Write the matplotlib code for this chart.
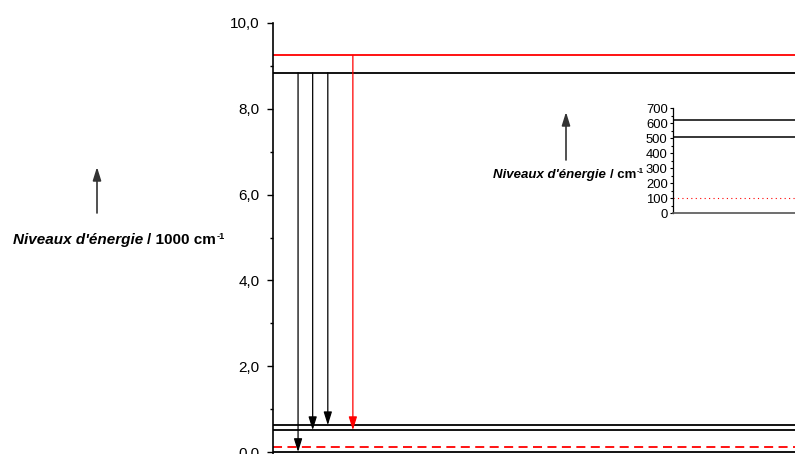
import matplotlib
matplotlib.use("Agg")
import matplotlib.pyplot as plt
from matplotlib.ticker import MultipleLocator, FuncFormatter

plt.rcParams['font.family'] = ['Liberation Sans', 'DejaVu Sans']

# ---- data (energies in 1000 cm^-1 for main panel, cm^-1 for inset) ----
excited_black = 8.84
excited_red = 9.25
ground_levels = [0.0, 0.51, 0.625]          # solid black ground multiplet
ground_red_dashed = 0.105                   # red dashed level
# transitions: (x position, start, end, colour)
trans_x = [4.8, 7.6, 10.5, 15.3]
trans_start = [8.84, 8.84, 8.84, 9.25]
trans_end = [0.0, 0.51, 0.625, 0.51]
trans_color = ['black', 'black', 'black', 'red']

inset_levels = [625, 510]
inset_dotted = 105
inset_ticks = [0, 100, 200, 300, 400, 500, 600, 700]

W, H = 795, 454
fig = plt.figure(figsize=(W / 100, H / 100), dpi=100)

# ---- main axes ----
y0px, y10px = 452, 23
ppu = (y0px - y10px) / 10.0
ymin = -(H - y0px) / ppu
ax = fig.add_axes([273 / W, 0, (W - 273) / W, (H - y10px) / H])
ax.set_xlim(0, 100)
ax.set_ylim(ymin, 10)
for s in ['top', 'right', 'bottom']:
    ax.spines[s].set_visible(False)
ax.spines['left'].set_linewidth(1.2)
ax.set_xticks([])
ax.yaxis.set_major_locator(MultipleLocator(2))
ax.yaxis.set_minor_locator(MultipleLocator(1))
ax.yaxis.set_major_formatter(FuncFormatter(lambda v, p: f"{v:.1f}".replace('.', ',')))
ax.tick_params(axis='y', which='major', direction='out', length=4.5, width=1.0,
               pad=5, labelsize=11)
ax.tick_params(axis='y', which='minor', direction='out', length=2.5, width=1.0)

for lv in ground_levels:
    ax.axhline(lv, color='black', lw=1.3, zorder=2)
ax.axhline(excited_black, color='black', lw=1.3, zorder=2)
ax.axhline(excited_red, color='red', lw=1.3, zorder=2)
ax.axhline(ground_red_dashed, color='red', lw=1.3, ls=(0, (5, 3)), zorder=2)

for x, s, e, c in zip(trans_x, trans_start, trans_end, trans_color):
    ax.annotate('', xy=(x, e), xytext=(x, s),
                arrowprops=dict(arrowstyle='-|>,head_length=0.8,head_width=0.25',
                                lw=0.9, color=c, shrinkA=0, shrinkB=0,
                                mutation_scale=10), zorder=3)

# ---- inset ----
in_y0, in_y700 = 213.3, 108.3
in_left = 672.5
iax = fig.add_axes([in_left / W, 1 - in_y0 / H, (W - in_left) / W, (in_y0 - in_y700) / H])
iax.set_xlim(0, 100)
iax.set_ylim(0, 700)
for s in ['top', 'right']:
    iax.spines[s].set_visible(False)
iax.spines['left'].set_linewidth(0.9)
iax.spines['bottom'].set_linewidth(1.2)
iax.spines['bottom'].set_color('#555555')
iax.set_xticks([])
iax.set_yticks(inset_ticks)
iax.yaxis.set_minor_locator(MultipleLocator(50))
iax.tick_params(axis='y', which='major', direction='out', length=2.5, width=0.8,
                pad=1.0, labelsize=9.4)
iax.tick_params(axis='y', which='minor', direction='out', length=1.5, width=0.8)
for lv in inset_levels:
    iax.axhline(lv, color='black', lw=1.1)
iax.axhline(inset_dotted, color='red', lw=0.8, ls=(0, (1, 3)))


# ---- labels with arrows ----
def energy_label(x, y, unit, fs, arrow_top, arrow_bot, arrow_x):
    t1 = fig.text(x / W, 1 - y / H, "Niveaux d'énergie", fontsize=fs,
                  fontweight='bold', fontstyle='italic', va='center', ha='left')
    t2 = plt.annotate(f"/ {unit}", xy=(1, 0), xycoords=t1, xytext=(3, 0),
                      textcoords='offset points', fontsize=fs, fontweight='bold',
                      va='bottom', ha='left', annotation_clip=False)
    plt.annotate("-1", xy=(1, 1), xycoords=t2, xytext=(0.5, 1),
                 textcoords='offset points', fontsize=fs * 0.6, fontweight='bold',
                 va='top', ha='left', annotation_clip=False)
    fig.add_artist(matplotlib.patches.FancyArrowPatch(
        (arrow_x / W, 1 - arrow_bot / H), (arrow_x / W, 1 - arrow_top / H),
        transform=fig.transFigure, arrowstyle='-|>,head_length=0.8,head_width=0.25',
        mutation_scale=10, lw=1.2, color='#333333', shrinkA=0, shrinkB=0))


energy_label(13, 240, "1000 cm", 11.0, 167, 213, 97)
energy_label(493, 175, "cm", 9.5, 112, 160, 566)

fig.savefig("out.png", dpi=100)
